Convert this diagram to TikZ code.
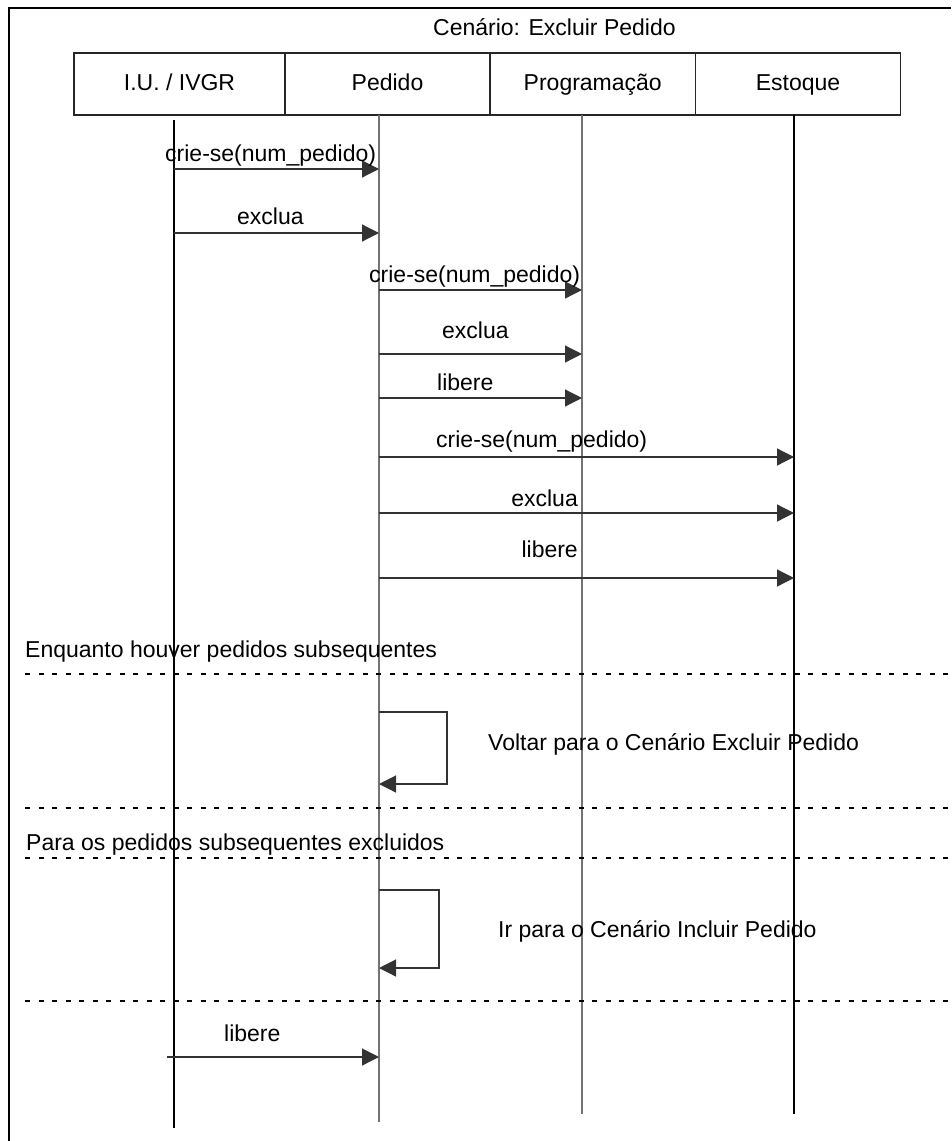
\documentclass[tikz,border=0pt]{standalone}
\usepackage{fontspec}
\setmainfont{Liberation Sans}
\usetikzlibrary{arrows.meta}
\begin{document}
\begin{tikzpicture}[x=1pt,y=-1pt,
  txt/.style={inner sep=0pt,anchor=base west,font=\fontsize{23}{27}\selectfont},
  objbox/.style={draw=black!85,line width=1.2pt,minimum height=62pt,inner sep=0pt,
    text height=17pt,text depth=5pt,font=\fontsize{23}{27}\selectfont},
  lifeline/.style={line width=1.1pt},
  msg/.style={line width=1.2pt,draw=black!80,-{Triangle[length=17pt,width=17pt]}},
  sep/.style={line width=1.1pt,dash pattern=on 5pt off 8.5pt},
]
\useasboundingbox (0,0) rectangle (951,1141);

% outer frame (top and left edges)
\draw[line width=1.8pt] (9,1141) -- (9,8) -- (951,8);

% title
\node[txt] (title) at (433,35) {Cenário: Excluir Pedido};

% object headers
\node[objbox,minimum width=211pt]   (ui)   at (179.5,84)  {I.U. / IVGR};
\node[objbox,minimum width=205pt]   (ped)  at (387.5,84)  {Pedido};
\node[objbox,minimum width=205.5pt] (prog) at (592.75,84) {Programação};
\node[objbox,minimum width=205pt]   (est)  at (798,84)    {Estoque};

% lifelines
\coordinate (l1t) at (174,120);  \coordinate (l1b) at (174,1128);
\coordinate (l2t) at (379,115);  \coordinate (l2b) at (379,1122);
\coordinate (l3t) at (582,115);  \coordinate (l3b) at (582,1114);
\coordinate (l4t) at (794,115);  \coordinate (l4b) at (794,1114);
\draw[lifeline,black] (l1t) -- (l1b);
\draw[lifeline,black!55] (l2t) -- (l2b);
\draw[lifeline,black!55] (l3t) -- (l3b);
\draw[lifeline,black] (l4t) -- (l4b);

% messages I.U. -> Pedido
\coordinate (a1) at (174,169);  \coordinate (b1) at (379,169);
\draw[msg] (a1) -- (b1);
\node[txt] (t1) at (165,161) {crie-se(num\_pedido)};
\coordinate (a2) at (174,233);  \coordinate (b2) at (379,233);
\draw[msg] (a2) -- (b2);
\node[txt] (t2) at (237,224) {exclua};

% messages Pedido -> Programação
\coordinate (a3) at (379,290);  \coordinate (b3) at (582,290);
\draw[msg] (a3) -- (b3);
\node[txt] (t3) at (369,282) {crie-se(num\_pedido)};
\coordinate (a4) at (379,354);  \coordinate (b4) at (582,354);
\draw[msg] (a4) -- (b4);
\node[txt] (t4) at (442,338) {exclua};
\coordinate (a5) at (379,398);  \coordinate (b5) at (582,398);
\draw[msg] (a5) -- (b5);
\node[txt] (t5) at (437,390) {libere};

% messages Pedido -> Estoque
\coordinate (a6) at (379,457);  \coordinate (b6) at (794,457);
\draw[msg] (a6) -- (b6);
\node[txt] (t6) at (436,447) {crie-se(num\_pedido)};
\coordinate (a7) at (379,513);  \coordinate (b7) at (794,513);
\draw[msg] (a7) -- (b7);
\node[txt,anchor=base east] (t7) at (578,506) {exclua};
\coordinate (a8) at (379,578);  \coordinate (b8) at (794,578);
\draw[msg] (a8) -- (b8);
\node[txt,anchor=base east] (t8) at (578,557) {libere};

% loop: while there are subsequent orders
\node[txt] (c1) at (25,657) {Enquanto houver pedidos subsequentes};
\draw[sep] (25,674) -- (951,674);
\coordinate (s1) at (379,712);  \coordinate (e1) at (379,784);
\draw[msg] (s1) -- (447,712) -- (447,784) -- (e1);
\node[txt] (v1) at (488,750) {Voltar para o Cenário Excluir Pedido};
\draw[sep] (25,808) -- (951,808);

% loop: for the deleted subsequent orders
\node[txt] (c2) at (26,850) {Para os pedidos subsequentes excluidos};
\draw[sep] (25,858) -- (951,858);
\coordinate (s2) at (379,890);  \coordinate (e2) at (379,968);
\draw[msg] (s2) -- (439,890) -- (439,968) -- (e2);
\node[txt] (v2) at (498,937) {Ir para o Cenário Incluir Pedido};
\draw[sep] (25,1001) -- (951,1001);

% final message
\coordinate (a9) at (167,1057);  \coordinate (b9) at (379,1057);
\draw[msg] (a9) -- (b9);
\node[txt] (t9) at (224,1041) {libere};
\end{tikzpicture}
\end{document}
